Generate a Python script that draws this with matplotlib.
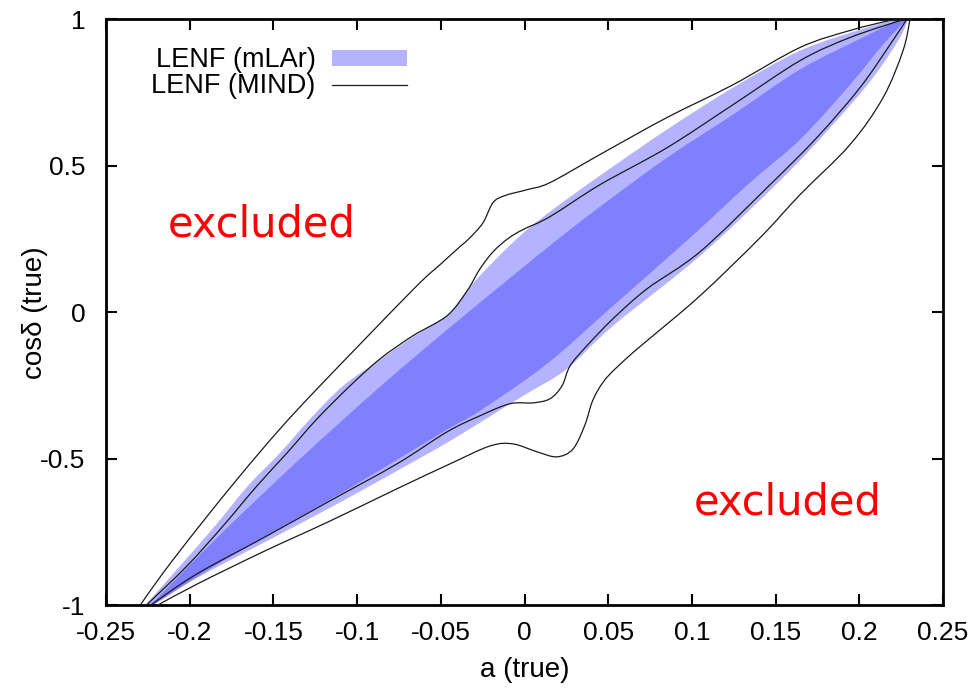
import numpy as np
import matplotlib
matplotlib.use("Agg")
import matplotlib.pyplot as plt
from matplotlib.path import Path
from matplotlib.patches import PathPatch, Patch
from matplotlib.lines import Line2D

# ---- allowed-region boundaries in the (a, cos delta) plane ----
# LENF (mLAr), outer (light) region
mlar_outer_upper_a = [-0.2267, -0.2058, -0.1849, -0.1652, -0.1461, -0.1281, -0.1084, -0.0863, -0.0666,
                      -0.0463, -0.0367, -0.0266, -0.0045, 0.0152, 0.0451, 0.0851, 0.1246, 0.1646,
                      0.2046, 0.2243]
mlar_outer_upper_c = [-1.0, -0.865, -0.729, -0.592, -0.480, -0.364, -0.251, -0.162, -0.084,
                      -0.012, 0.056, 0.125, 0.251, 0.343, 0.466, 0.623, 0.766, 0.892,
                      0.971, 1.0]
mlar_outer_lower_a = [-0.2219, -0.1956, -0.1562, -0.1162, -0.0762, -0.0445, -0.0105, 0.0033, 0.0254,
                      0.0529, 0.1048, 0.1544, 0.1843, 0.2082, 0.2243, 0.2291]
mlar_outer_lower_c = [-1.0, -0.906, -0.787, -0.667, -0.541, -0.439, -0.319, -0.271, -0.193,
                      -0.046, 0.192, 0.459, 0.640, 0.800, 0.937, 1.0]

# LENF (mLAr), inner (dark) region
mlar_inner_upper_a = [-0.2237, -0.1819, -0.1341, -0.0863, -0.0463, -0.0069, 0.0182, 0.0451, 0.0851,
                      0.1246, 0.1646, 0.2046, 0.2243]
mlar_inner_upper_c = [-1.0, -0.759, -0.500, -0.254, -0.060, 0.125, 0.241, 0.360, 0.527,
                      0.674, 0.828, 0.944, 1.0]
mlar_inner_lower_a = [-0.2225, -0.1801, -0.1102, -0.0744, -0.0445, -0.0266, 0.0134, 0.0529, 0.0983,
                      0.1347, 0.1646, 0.1945, 0.2142, 0.2285]
mlar_inner_lower_c = [-1.0, -0.848, -0.619, -0.497, -0.394, -0.336, -0.176, 0.022, 0.251,
                      0.442, 0.589, 0.776, 0.913, 1.0]

# LENF (MIND), outer contour
mind_outer_upper_a = [-0.2297, -0.2159, -0.1956, -0.1700, -0.1461, -0.1222, -0.0666, -0.0505,
                      -0.0385, -0.0326, -0.0248, -0.0188, -0.0116, 0.0015, 0.0152, 0.0451, 0.0851,
                      0.1246, 0.1646, 0.1945, 0.2184, 0.2261]
mind_outer_upper_c = [-1.0, -0.889, -0.739, -0.558, -0.398, -0.251, 0.077, 0.162,
                      0.224, 0.254, 0.305, 0.374, 0.398, 0.418, 0.442, 0.538, 0.664,
                      0.776, 0.903, 0.961, 0.995, 1.0]
mind_outer_lower_a = [-0.2195, -0.1956, -0.1562, -0.1162, -0.0762, -0.0445, -0.0206, -0.0069, 0.0075,
                      0.0194, 0.0290, 0.0361, 0.0409, 0.0481, 0.0600, 0.0732, 0.1048, 0.1407,
                      0.1646, 0.1945, 0.2142, 0.2261, 0.2303]
mind_outer_lower_c = [-1.0, -0.927, -0.817, -0.712, -0.602, -0.517, -0.456, -0.449, -0.476,
                      -0.493, -0.466, -0.384, -0.299, -0.230, -0.162, -0.097, 0.056, 0.254,
                      0.401, 0.572, 0.732, 0.892, 1.0]

# LENF (MIND), inner contour
mind_inner_upper_a = [-0.2261, -0.2016, -0.1801, -0.1598, -0.1419, -0.1240, -0.1042, -0.0863, -0.0666,
                      -0.0463, -0.0343, -0.0266, -0.0188, -0.0099, -0.0009, 0.0152, 0.0451, 0.0851,
                      0.1246, 0.1646, 0.1945, 0.2273]
mind_inner_upper_c = [-1.0, -0.865, -0.729, -0.592, -0.480, -0.364, -0.251, -0.159, -0.080,
                      -0.012, 0.073, 0.148, 0.206, 0.251, 0.282, 0.326, 0.435, 0.561,
                      0.708, 0.858, 0.937, 1.0]
mind_inner_lower_a = [-0.2237, -0.1956, -0.1562, -0.1162, -0.0762, -0.0463, -0.0266, -0.0087, 0.0051,
                      0.0152, 0.0224, 0.0272, 0.0373, 0.0529, 0.0732, 0.1048, 0.1449, 0.1747,
                      0.2004, 0.2184, 0.2285]
mind_inner_lower_c = [-1.0, -0.892, -0.770, -0.643, -0.517, -0.408, -0.353, -0.312, -0.309,
                      -0.295, -0.251, -0.183, -0.114, -0.022, 0.080, 0.206, 0.425, 0.596,
                      0.766, 0.913, 1.0]

x_ticks = [-0.25, -0.2, -0.15, -0.1, -0.05, 0, 0.05, 0.1, 0.15, 0.2, 0.25]
x_tick_labels = ["-0.25", "-0.2", "-0.15", "-0.1", "-0.05", "0", "0.05", "0.1", "0.15", "0.2", "0.25"]
y_ticks = [-1, -0.5, 0, 0.5, 1]
y_tick_labels = ["-1", "-0.5", "0", "0.5", "1"]

LIGHT = "#b3b3ff"
DARK = "#8080ff"
LINE = "#1a1a1a"

FONT = ["Liberation Sans", "DejaVu Sans"]


def bezier_chain(a, c, start=True):
    """Smooth Catmull-Rom chain through the given points, as cubic Bezier segments."""
    pts = np.column_stack([a, c]).astype(float)
    n = len(pts)
    verts = [pts[0]] if start else []
    codes = [Path.MOVETO] if start else []
    for i in range(n - 1):
        p0 = pts[i - 1] if i > 0 else pts[i]
        p1, p2 = pts[i], pts[i + 1]
        p3 = pts[i + 2] if i + 2 < n else pts[i + 1]
        verts += [p1 + (p2 - p0) / 6.0, p2 - (p3 - p1) / 6.0, p2]
        codes += [Path.CURVE4] * 3
    return verts, codes


def region_path(ua, uc, la, lc):
    v1, c1 = bezier_chain(ua, uc)
    la_r, lc_r = la[::-1], lc[::-1]
    v2, c2 = bezier_chain(la_r, lc_r, start=False)
    verts = v1 + [np.array([la_r[0], lc_r[0]])] + v2 + [np.array([ua[0], uc[0]])]
    codes = c1 + [Path.LINETO] + c2 + [Path.CLOSEPOLY]
    return Path(verts, codes)


fig = plt.figure(figsize=(9.76, 6.89), dpi=100)
ax = fig.add_axes([0.1086, 0.1212, 0.8576, 0.8512])

ax.add_patch(PathPatch(region_path(mlar_outer_upper_a, mlar_outer_upper_c,
                                   mlar_outer_lower_a, mlar_outer_lower_c),
                       facecolor=LIGHT, edgecolor="none", zorder=1))
ax.add_patch(PathPatch(region_path(mlar_inner_upper_a, mlar_inner_upper_c,
                                   mlar_inner_lower_a, mlar_inner_lower_c),
                       facecolor=DARK, edgecolor="none", zorder=2))

for ca, cc in [(mind_outer_upper_a, mind_outer_upper_c), (mind_outer_lower_a, mind_outer_lower_c),
               (mind_inner_upper_a, mind_inner_upper_c), (mind_inner_lower_a, mind_inner_lower_c)]:
    v, cd = bezier_chain(ca, cc)
    ax.add_patch(PathPatch(Path(v, cd), facecolor="none", edgecolor=LINE, lw=0.9, zorder=3))

ax.set_xlim(-0.25, 0.25)
ax.set_ylim(-1, 1)
ax.set_xticks(x_ticks)
ax.set_xticklabels(x_tick_labels)
ax.set_yticks(y_ticks)
ax.set_yticklabels(y_tick_labels)
ax.tick_params(direction="in", length=8, width=1.5, top=True, right=True)
ax.tick_params(axis="x", pad=11)
ax.tick_params(axis="y", pad=15)
for lab in ax.get_xticklabels() + ax.get_yticklabels():
    lab.set_fontfamily(FONT)
    lab.set_fontsize(19)
for s in ax.spines.values():
    s.set_linewidth(2)

ax.set_xlabel("a (true)", fontfamily=FONT, fontsize=20)
ax.set_ylabel("cosδ (true)", fontfamily=FONT, fontsize=20)
ax.xaxis.set_label_coords(0.5, -0.088)
ax.yaxis.set_label_coords(-0.069, 0.5)

ax.text(-0.157, 0.30, "excluded", color="red", fontsize=30, ha="center", va="center", zorder=5)
ax.text(0.157, -0.65, "excluded", color="red", fontsize=30, ha="center", va="center", zorder=5)

handles = [Patch(facecolor=LIGHT, edgecolor="none"),
           Line2D([], [], color=LINE, lw=0.9)]
leg = ax.legend(handles, ["LENF (mLAr)", "LENF (MIND)"], loc="upper left",
                bbox_to_anchor=(0.041, 0.97), frameon=False, markerfirst=False,
                handlelength=2.8, handleheight=0.55, labelspacing=0.0, borderaxespad=0,
                handletextpad=0.6, prop={"family": FONT, "size": 19.5})

fig.savefig("out.png", dpi=100)
